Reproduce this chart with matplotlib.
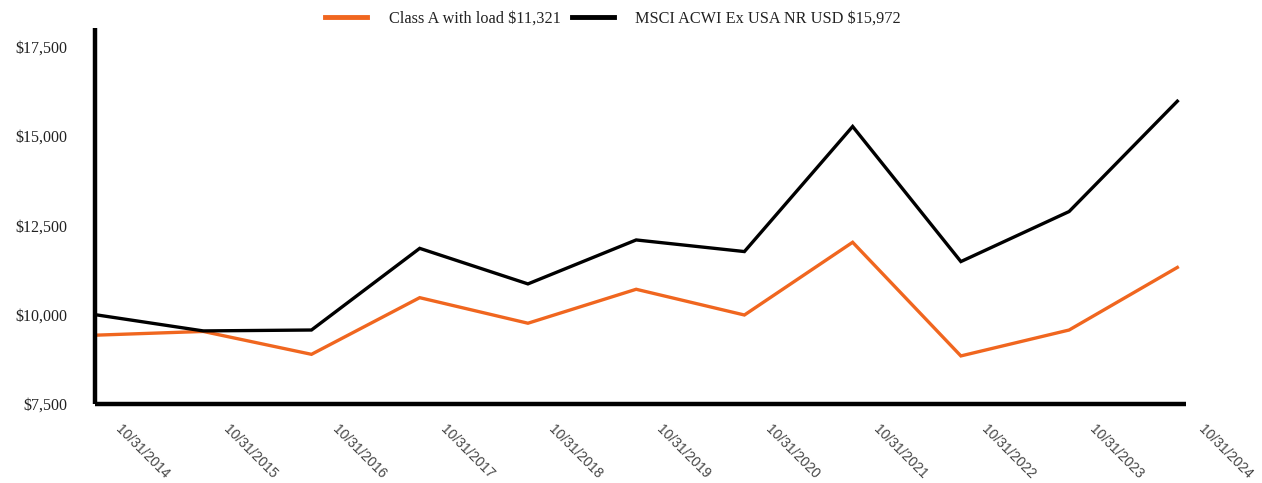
import matplotlib
matplotlib.use("Agg")
import matplotlib.pyplot as plt
import matplotlib.transforms as mtransforms
from matplotlib.ticker import FuncFormatter

# Growth of a $10,000 investment, fiscal year-ends
dates = ["10/31/2014", "10/31/2015", "10/31/2016", "10/31/2017", "10/31/2018",
         "10/31/2019", "10/31/2020", "10/31/2021", "10/31/2022", "10/31/2023",
         "10/31/2024"]
class_a = [9425, 9530, 8890, 10475, 9760, 10710, 9990, 12025, 8845, 9570, 11321]
msci_acwi = [10000, 9545, 9570, 11855, 10860, 12090, 11765, 15265, 11485, 12885, 15972]

series_labels = ["Class A with load $11,321", "MSCI ACWI Ex USA NR USD $15,972"]
y_ticks = [7500, 10000, 12500, 15000, 17500]

ORANGE = "#F0661F"
SERIF = ["Liberation Serif", "DejaVu Serif"]

fig = plt.figure(figsize=(12.62, 4.83), dpi=100)
ax = fig.add_axes([95 / 1262, 1 - 404 / 483, (1186 - 95) / 1262, (404 - 28) / 483])

x = list(range(len(dates)))
ax.plot(x, class_a, color=ORANGE, lw=2.4, label=series_labels[0], solid_joinstyle="miter")
ax.plot(x, msci_acwi, color="black", lw=2.4, label=series_labels[1], solid_joinstyle="miter")

ax.set_xlim(0, 10.08)
ax.set_ylim(7500, 18020)

for side in ("top", "right"):
    ax.spines[side].set_visible(False)
for side in ("left", "bottom"):
    ax.spines[side].set_linewidth(3.2)
    ax.spines[side].set_color("black")
    ax.spines[side].set_capstyle("butt")

ax.set_yticks(y_ticks)
ax.yaxis.set_major_formatter(FuncFormatter(lambda v, _: f"${v:,.0f}"))
ax.tick_params(axis="y", length=0, pad=20, labelsize=11.5, labelcolor="#222222")
for lbl in ax.get_yticklabels():
    lbl.set_fontfamily(SERIF)

ax.set_xticks(x)
ax.set_xticklabels(dates, rotation=-45, ha="left", va="top",
                   rotation_mode="anchor", fontsize=10,
                   fontfamily="Liberation Sans", color="#444444")
ax.tick_params(axis="x", length=0, pad=13)
shift = mtransforms.ScaledTranslation(28 / 100, 0, fig.dpi_scale_trans)
for lbl in ax.get_xticklabels():
    lbl.set_transform(lbl.get_transform() + shift)

leg = fig.legend(loc="center", bbox_to_anchor=(613 / 1262, 1 - 19 / 483), ncol=2,
                 frameon=False, handlelength=2.6, handletextpad=1.3,
                 columnspacing=0.7, prop={"family": SERIF, "size": 11.7})
for line in leg.get_lines():
    line.set_linewidth(3.5)
for t in leg.get_texts():
    t.set_color("#222222")

fig.savefig("out.png", dpi=100, facecolor="white")
